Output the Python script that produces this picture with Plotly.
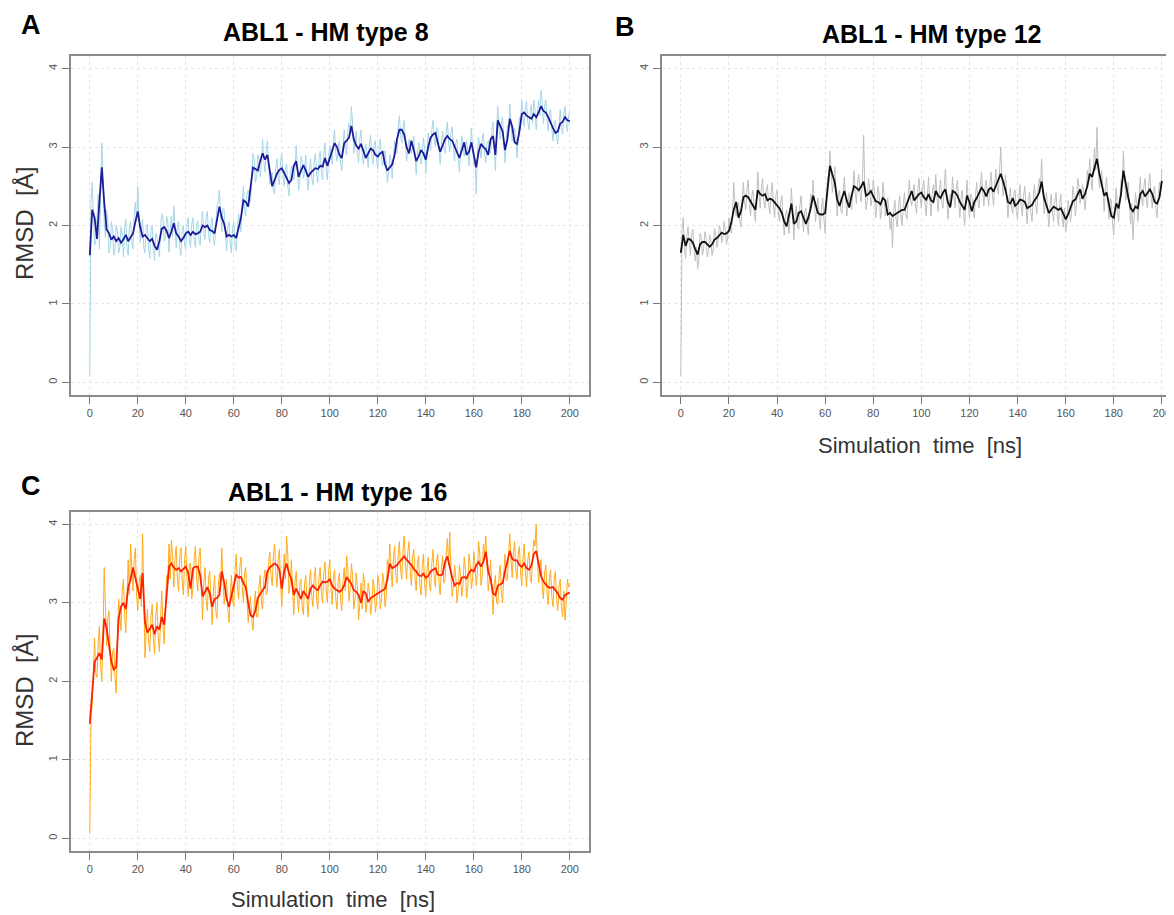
import plotly.graph_objects as go

W, H = 1174, 915
# the page body has an 8 px margin; the figure fills the rest of the window
OFF = 8
FW, FH = W - OFF, H - OFF

time_ns = list(range(201))
half_ns = [t + 0.5 for t in range(200)]

# ---- Panel A: ABL1 - HM type 8 ----
a_smooth = [1.62,2.20,2.10,1.83,2.30,2.74,2.30,1.95,1.90,1.82,
1.86,1.80,1.84,1.78,1.82,1.88,1.80,1.85,1.90,2.05,
2.18,1.98,1.86,1.88,1.84,1.80,1.83,1.74,1.69,1.80,
1.96,1.98,1.93,1.84,1.92,2.03,1.90,1.86,1.80,1.84,
1.90,1.92,1.88,1.92,1.89,1.90,1.92,2.00,1.98,2.00,
1.94,1.93,1.90,2.08,2.24,2.10,2.02,1.86,1.88,1.86,
1.88,1.84,1.98,2.10,2.32,2.30,2.24,2.50,2.74,2.72,
2.70,2.82,2.92,2.84,2.90,2.70,2.50,2.58,2.66,2.71,
2.73,2.67,2.60,2.54,2.58,2.76,2.82,2.62,2.70,2.77,
2.70,2.62,2.67,2.70,2.73,2.72,2.76,2.75,2.86,2.76,
2.85,2.96,3.05,3.00,2.90,2.86,3.05,3.08,3.12,3.27,
3.10,3.02,2.98,3.04,2.96,2.86,2.92,2.98,2.96,2.90,
2.88,2.92,2.94,2.78,2.70,2.74,2.78,2.90,3.10,3.22,
3.22,3.16,3.00,2.92,3.08,2.96,2.82,2.88,2.96,2.92,
2.84,3.00,3.12,3.16,3.18,3.05,2.94,3.02,3.10,3.14,
3.10,3.08,3.00,2.92,2.86,2.96,3.06,2.90,2.94,3.06,
2.92,2.74,2.94,3.04,3.00,2.97,2.90,3.10,3.14,2.90,
3.34,3.28,3.20,2.96,3.10,3.36,3.26,3.06,3.04,3.20,
3.42,3.44,3.40,3.38,3.36,3.42,3.38,3.44,3.52,3.46,
3.44,3.38,3.30,3.24,3.18,3.20,3.30,3.32,3.38,3.34,
3.33]

a_raw = [0.08,2.55,1.75,2.15,1.70,3.05,2.05,2.20,1.65,2.05,
1.62,2.00,1.65,1.98,1.60,2.08,1.62,2.05,1.70,2.30,
2.50,1.78,2.08,1.65,2.02,1.58,2.00,1.55,1.85,1.60,
2.15,1.80,2.12,1.66,2.12,2.25,1.72,2.05,1.62,2.00,
1.70,2.10,1.72,2.10,1.72,2.06,1.75,2.18,1.82,2.18,
1.78,2.10,1.74,2.25,2.45,1.92,2.20,1.68,2.05,1.65,
2.05,1.68,2.15,1.92,2.50,2.12,2.45,2.30,2.92,2.55,
2.90,2.62,3.10,2.68,3.08,2.52,2.68,2.40,2.85,2.52,
2.92,2.50,2.78,2.38,2.76,2.58,3.02,2.45,2.88,2.60,
2.90,2.45,2.85,2.52,2.92,2.55,2.95,2.58,3.05,2.58,
3.02,2.78,3.22,2.82,3.08,2.70,3.22,2.90,3.30,3.52,
2.92,3.20,2.80,3.22,2.78,3.04,2.74,3.15,2.78,3.08,
2.72,3.10,2.76,2.95,2.55,2.90,2.60,3.08,2.92,3.40,
3.05,3.34,2.82,3.10,2.92,3.14,2.65,3.06,2.78,3.12,
2.66,3.18,2.95,3.34,3.00,3.22,2.78,3.20,2.92,3.32,
2.94,3.26,2.82,3.10,2.68,3.14,2.88,3.08,2.76,3.24,
2.76,2.40,3.12,2.86,3.18,2.80,3.08,2.92,3.32,2.70,
3.52,3.10,3.38,2.80,3.28,3.55,3.08,3.24,2.86,3.38,
3.60,3.26,3.58,3.22,3.54,3.60,3.22,3.60,3.72,3.30,
3.60,3.20,3.48,3.08,3.34,3.04,3.48,3.16,3.52,3.20,
3.45]

a_raw_half = [2.30,2.00,1.80,2.40,2.55,2.60,1.85,2.08,1.72,1.95,
1.70,1.95,1.72,1.90,1.95,1.70,1.98,1.78,2.15,2.05,
2.10,1.95,1.72,1.98,1.70,1.95,1.68,1.90,1.75,1.98,
2.10,1.85,2.05,1.95,1.85,2.00,1.98,1.72,1.95,1.75,
2.02,1.80,2.02,1.80,2.02,1.82,2.05,1.90,2.10,1.88,
2.05,1.82,2.02,2.30,2.15,2.22,1.90,1.98,1.78,1.98,
1.75,1.95,2.05,2.30,2.20,2.40,2.35,2.62,2.85,2.62,
2.85,2.78,2.82,2.95,2.80,2.62,2.45,2.72,2.60,2.82,
2.62,2.72,2.50,2.65,2.70,2.72,2.72,2.58,2.82,2.68,
2.60,2.72,2.60,2.82,2.65,2.85,2.68,2.90,2.70,2.88,
2.92,3.10,2.92,2.98,2.80,3.00,3.02,3.20,3.15,3.30,
3.05,2.92,3.10,2.92,2.95,2.90,3.05,2.90,3.02,2.82,
3.00,2.88,2.86,2.80,2.66,2.85,2.82,3.00,3.25,3.15,
3.25,3.05,2.98,3.02,3.02,2.88,2.90,2.95,2.88,2.98,
2.92,3.05,3.22,3.10,3.25,2.98,3.05,3.00,3.20,3.05,
3.18,3.00,3.05,2.85,2.95,3.02,2.98,2.95,3.00,2.98,
2.85,2.90,3.00,3.10,2.92,3.05,2.98,3.20,3.00,3.20,
3.25,3.30,3.05,3.05,3.22,3.30,3.15,3.12,3.12,3.30,
3.38,3.50,3.32,3.45,3.30,3.48,3.45,3.40,3.58,3.52,
3.35,3.45,3.25,3.32,3.12,3.28,3.25,3.42,3.30,3.40]

# ---- Panel B: ABL1 - HM type 12 ----
b_smooth = [1.65,1.88,1.74,1.83,1.82,1.78,1.70,1.63,1.76,1.79,
1.79,1.76,1.73,1.76,1.82,1.84,1.88,1.91,1.89,1.90,
1.93,2.04,2.20,2.30,2.10,2.18,2.36,2.38,2.36,2.30,
2.25,2.20,2.45,2.40,2.38,2.40,2.32,2.34,2.33,2.29,
2.26,2.22,2.16,2.05,1.99,2.12,2.28,2.02,2.05,2.16,
2.18,2.10,2.02,2.10,2.22,2.38,2.25,2.16,2.14,2.14,
2.16,2.45,2.76,2.65,2.55,2.33,2.25,2.35,2.44,2.32,
2.23,2.38,2.50,2.48,2.45,2.50,2.56,2.38,2.40,2.44,
2.38,2.31,2.30,2.27,2.35,2.32,2.14,2.16,2.12,2.14,
2.16,2.18,2.20,2.20,2.28,2.38,2.44,2.32,2.36,2.40,
2.42,2.36,2.33,2.40,2.32,2.30,2.44,2.38,2.35,2.42,
2.46,2.30,2.23,2.44,2.42,2.38,2.30,2.24,2.20,2.38,
2.30,2.18,2.30,2.35,2.42,2.48,2.44,2.37,2.46,2.48,
2.43,2.50,2.58,2.66,2.56,2.45,2.30,2.28,2.35,2.25,
2.28,2.33,2.32,2.30,2.22,2.24,2.26,2.32,2.36,2.42,
2.56,2.35,2.24,2.16,2.20,2.24,2.22,2.20,2.22,2.16,
2.08,2.14,2.24,2.31,2.33,2.40,2.46,2.34,2.40,2.50,
2.66,2.62,2.74,2.85,2.66,2.50,2.38,2.42,2.26,2.12,
2.10,2.28,2.22,2.40,2.70,2.52,2.36,2.22,2.18,2.24,
2.22,2.40,2.44,2.37,2.42,2.46,2.40,2.30,2.28,2.36,
2.57]

b_raw = [0.08,2.10,1.58,1.98,1.62,1.95,1.55,1.45,1.90,1.62,
1.92,1.60,1.88,1.62,1.96,1.72,2.00,1.78,2.05,1.76,
2.10,1.90,2.55,2.12,2.30,1.98,2.55,2.20,2.58,2.12,
2.45,2.05,2.68,2.22,2.60,2.22,2.52,2.15,2.55,2.10,
2.45,2.05,2.38,1.88,2.20,1.90,2.48,1.82,2.25,1.95,
2.38,1.92,2.22,1.88,2.40,2.58,2.05,2.35,1.95,2.35,
1.90,2.62,2.95,2.42,2.75,2.12,2.45,2.15,2.62,2.12,
2.42,2.20,2.70,2.28,2.65,2.30,3.15,2.20,2.60,2.25,
2.58,2.10,2.50,2.08,2.55,2.12,2.35,1.95,1.72,2.32,
1.98,2.38,2.00,2.42,2.08,2.58,2.25,2.52,2.15,2.60,
2.22,2.58,2.12,2.62,2.12,2.52,2.65,2.18,2.58,2.22,
2.72,2.08,2.40,2.62,2.22,2.58,2.10,2.45,2.00,2.58,
2.10,2.36,2.10,2.55,2.22,2.68,2.25,2.58,2.25,2.68,
2.25,2.72,2.40,3.00,2.38,2.65,2.10,2.48,2.15,2.45,
2.08,2.52,2.12,2.50,2.02,2.42,2.05,2.52,2.15,2.60,
2.85,2.15,2.42,1.98,2.40,2.05,2.42,2.00,2.40,1.98,
1.92,2.32,2.05,2.50,2.12,2.60,2.28,2.52,2.20,2.70,
2.85,2.45,2.98,3.25,2.48,2.70,2.18,2.62,2.08,2.32,
1.88,2.48,2.05,2.58,2.95,2.32,2.55,2.02,1.82,2.42,
2.05,2.62,2.25,2.60,2.22,2.66,2.22,2.50,2.10,2.55,
2.72]

b_raw_half = [1.95,1.72,1.88,1.75,1.88,1.70,1.72,1.58,1.85,1.70,
1.85,1.68,1.82,1.70,1.88,1.80,1.95,1.85,1.95,1.85,
2.00,2.15,2.28,2.22,2.05,2.30,2.30,2.45,2.28,2.38,
2.18,2.32,2.40,2.48,2.30,2.45,2.28,2.42,2.25,2.38,
2.18,2.30,2.08,2.12,2.05,2.20,2.15,2.12,2.00,2.25,
2.10,2.18,2.00,2.20,2.30,2.32,2.20,2.10,2.22,2.08,
2.30,2.62,2.70,2.55,2.45,2.40,2.20,2.42,2.35,2.28,
2.30,2.45,2.42,2.55,2.40,2.58,2.48,2.32,2.48,2.35,
2.45,2.25,2.38,2.20,2.40,2.22,2.22,2.10,2.20,2.08,
2.25,2.12,2.28,2.15,2.35,2.32,2.42,2.28,2.45,2.35,
2.48,2.30,2.38,2.32,2.40,2.38,2.35,2.45,2.30,2.50,
2.40,2.25,2.35,2.38,2.48,2.30,2.36,2.18,2.30,2.30,
2.40,2.24,2.38,2.30,2.50,2.42,2.50,2.38,2.52,2.40,
2.52,2.50,2.68,2.60,2.50,2.38,2.35,2.22,2.42,2.18,
2.35,2.25,2.38,2.22,2.30,2.18,2.32,2.28,2.45,2.48,
2.48,2.28,2.20,2.25,2.15,2.30,2.15,2.28,2.12,2.22,
2.02,2.22,2.20,2.38,2.28,2.50,2.38,2.42,2.36,2.58,
2.60,2.72,2.70,2.78,2.58,2.45,2.48,2.32,2.35,2.02,
2.22,2.18,2.30,2.55,2.62,2.42,2.30,2.28,2.12,2.30,
2.30,2.35,2.50,2.32,2.50,2.38,2.45,2.22,2.38,2.45]

# ---- Panel C: ABL1 - HM type 16 ----
c_smooth = [1.46,1.90,2.25,2.30,2.36,2.28,2.80,2.68,2.46,2.25,
2.15,2.18,2.80,2.95,3.00,2.92,3.20,3.30,3.45,3.32,
3.15,3.05,3.38,2.75,2.62,2.68,2.72,2.60,2.70,2.66,
2.82,2.72,3.10,3.46,3.50,3.45,3.42,3.44,3.40,3.43,
3.46,3.38,3.18,3.44,3.46,3.46,3.35,3.08,3.15,3.20,
3.12,2.95,3.05,3.06,3.10,3.40,3.26,3.05,2.95,3.10,
3.25,3.36,3.32,3.33,3.25,3.20,3.00,2.84,2.82,2.90,
3.06,3.12,3.16,3.20,3.40,3.45,3.48,3.50,3.48,3.42,
3.18,3.40,3.50,3.38,3.30,3.10,3.18,3.12,3.05,3.15,
3.10,3.05,3.18,3.22,3.18,3.16,3.22,3.27,3.26,3.27,
3.30,3.22,3.18,3.16,3.14,3.16,3.22,3.33,3.28,3.24,
3.16,3.14,3.10,3.00,3.15,3.12,3.01,3.06,3.08,3.10,
3.12,3.14,3.16,3.18,3.30,3.50,3.44,3.46,3.48,3.52,
3.56,3.59,3.55,3.52,3.48,3.43,3.40,3.35,3.34,3.37,
3.32,3.34,3.40,3.42,3.44,3.36,3.35,3.36,3.52,3.59,
3.44,3.32,3.22,3.25,3.24,3.32,3.33,3.31,3.38,3.42,
3.40,3.48,3.52,3.46,3.52,3.65,3.40,3.30,3.12,3.10,
3.22,3.24,3.25,3.40,3.52,3.66,3.56,3.54,3.54,3.48,
3.46,3.50,3.44,3.42,3.48,3.62,3.66,3.50,3.34,3.27,
3.24,3.20,3.19,3.20,3.16,3.12,3.06,3.04,3.10,3.12,
3.13]

c_raw = [0.06,1.70,2.55,2.05,2.70,2.00,3.45,2.45,2.90,2.00,
2.42,1.85,3.05,2.65,3.30,2.62,3.55,3.75,3.15,3.70,
2.90,3.35,3.88,2.30,2.92,2.38,2.98,2.35,3.00,2.38,
3.15,2.48,3.35,3.75,3.80,3.20,3.72,3.15,3.70,3.10,
3.72,3.08,3.50,3.20,3.72,3.15,3.70,2.78,3.45,2.90,
3.40,2.72,3.35,2.80,3.38,3.70,2.98,3.30,2.75,3.35,
2.95,3.62,3.05,3.58,3.00,3.45,2.75,3.08,2.65,3.15,
2.82,3.35,2.92,3.42,3.15,3.65,3.22,3.75,3.20,3.68,
2.95,3.62,3.85,3.12,3.55,2.85,3.40,2.88,3.30,2.85,
3.35,2.82,3.42,2.95,3.45,2.92,3.45,3.00,3.52,3.00,
3.55,2.98,3.42,2.92,3.38,2.90,3.45,3.60,3.02,3.50,
2.92,3.38,2.78,3.25,3.38,2.88,3.25,2.85,3.30,2.88,
3.35,2.92,3.38,2.95,3.55,3.75,3.20,3.72,3.25,3.78,
3.30,3.85,3.30,3.78,3.22,3.68,3.15,3.60,3.10,3.62,
3.08,3.58,3.15,3.68,3.20,3.62,3.10,3.60,3.30,3.82,
3.90,3.08,3.48,3.00,3.48,3.08,3.58,3.06,3.62,3.18,
3.65,3.22,3.78,3.22,3.75,3.85,3.15,3.55,2.85,3.35,
2.98,3.48,3.00,3.62,3.30,3.88,3.32,3.78,3.30,3.72,
3.22,3.75,3.20,3.65,3.25,3.80,4.00,3.25,3.55,3.05,
3.48,2.98,3.42,2.95,3.40,2.90,3.30,2.82,2.78,3.30,
3.25]

c_raw_half = [1.55,2.20,2.10,2.50,2.20,2.55,2.95,2.80,2.35,2.38,
2.05,2.50,2.85,3.15,2.85,3.05,3.10,3.45,3.55,3.10,
3.25,2.95,3.10,2.65,2.50,2.82,2.55,2.85,2.55,2.80,
2.70,2.95,3.25,3.30,3.60,3.55,3.30,3.58,3.28,3.55,
3.30,3.50,3.05,3.55,3.32,3.58,3.22,3.25,3.02,3.32,
3.00,3.15,2.90,3.20,3.22,3.30,3.15,2.92,3.08,3.02,
3.40,3.22,3.45,3.20,3.38,3.05,2.95,2.78,2.95,2.82,
3.20,3.00,3.30,3.10,3.50,3.35,3.60,3.40,3.55,3.25,
3.30,3.30,3.62,3.25,3.15,3.25,3.05,3.25,2.95,3.25,
3.02,3.25,3.08,3.32,3.05,3.32,3.12,3.38,3.15,3.40,
3.18,3.32,3.05,3.28,3.05,3.28,3.15,3.45,3.18,3.35,
3.05,3.22,2.98,2.92,3.25,3.00,3.15,2.98,3.20,3.00,
3.25,3.02,3.28,3.08,3.40,3.42,3.55,3.35,3.60,3.42,
3.68,3.48,3.65,3.40,3.58,3.32,3.50,3.25,3.45,3.25,
3.42,3.25,3.50,3.32,3.55,3.25,3.45,3.25,3.62,3.48,
3.35,3.22,3.32,3.15,3.35,3.22,3.42,3.20,3.48,3.32,
3.50,3.38,3.62,3.35,3.62,3.52,3.30,3.20,3.22,3.00,
3.35,3.12,3.38,3.28,3.62,3.55,3.65,3.42,3.62,3.38,
3.58,3.38,3.55,3.32,3.58,3.72,3.55,3.40,3.22,3.38,
3.12,3.32,3.08,3.30,3.05,3.22,2.95,3.15,3.00,3.20]

titles = ["ABL1 - HM type 8", "ABL1 - HM type 12", "ABL1 - HM type 16"]
letters = ["A", "B", "C"]
x_ticks = [0, 20, 40, 60, 80, 100, 120, 140, 160, 180, 200]
y_ticks = [0, 1, 2, 3, 4]
y_label = "RMSD  [Å]"
x_label = "Simulation  time  [ns]"

FONT = "Liberation Sans, Arial, sans-serif"


def px(x):
    return (x - OFF) / FW


def py(y):
    return 1 - (y - OFF) / FH


def merge(full, half):
    xs, ys = [], []
    for i in range(len(half)):
        xs += [time_ns[i], half_ns[i]]
        ys += [full[i], half[i]]
    xs.append(time_ns[-1])
    ys.append(full[-1])
    return xs, ys


fig = go.Figure()

panels = [
    (a_raw, a_raw_half, a_smooth, "#a6d6e6", "#1c1c98", "x", "y"),
    (b_raw, b_raw_half, b_smooth, "#bfbfbf", "#111111", "x2", "y2"),
    (c_raw, c_raw_half, c_smooth, "#ffab1f", "#ff2000", "x3", "y3"),
]
for raw, half, smooth, rc, sc, xa, ya in panels:
    rx, ry = merge(raw, half)
    fig.add_trace(go.Scatter(x=rx, y=ry, mode="lines", xaxis=xa, yaxis=ya,
                             line=dict(color=rc, width=1), showlegend=False, hoverinfo="skip"))
    fig.add_trace(go.Scatter(x=time_ns, y=smooth, mode="lines", xaxis=xa, yaxis=ya,
                             line=dict(color=sc, width=1.8), showlegend=False))

common_x = dict(range=[-8, 208], tickvals=x_ticks, ticks="outside", ticklen=7, tickwidth=1,
                tickcolor="#777", showline=True, mirror=True, linecolor="#8a8a8a", linewidth=1.5,
                showgrid=True, gridcolor="#e6e6e6", griddash="dot", gridwidth=1, zeroline=False,
                tickfont=dict(size=11, color="#555", family=FONT))
common_y = dict(range=[-0.16, 4.16], tickvals=y_ticks, ticks="outside", ticklen=7, tickwidth=1,
                tickcolor="#777", showline=True, mirror=True, linecolor="#8a8a8a", linewidth=1.5,
                showgrid=True, gridcolor="#e6e6e6", griddash="dot", gridwidth=1, zeroline=False,
                tickangle=-90, tickfont=dict(size=11, color="#555", family=FONT))

dom_top = [py(395), py(56)]
dom_bot = [py(851), py(511.7)]
dom_left = [px(70.7), px(590)]
dom_right = [px(662.7), 1.0]

fig.update_layout(
    width=FW, height=FH, margin=dict(l=0, r=0, t=0, b=0),
    paper_bgcolor="white", plot_bgcolor="white",
    font=dict(family=FONT),
    xaxis=dict(domain=dom_left, anchor="y", **common_x),
    yaxis=dict(domain=dom_top, anchor="x", **common_y),
    xaxis2=dict(domain=dom_right, anchor="y2", **{**common_x, "range": [-8, 204.2]}),
    yaxis2=dict(domain=dom_top, anchor="x2", **common_y),
    xaxis3=dict(domain=dom_left, anchor="y3", **common_x),
    yaxis3=dict(domain=dom_bot, anchor="x3", **common_y),
)

ann = []
for text, (cx, cy) in zip(titles, [(327, 32), (933, 34), (338, 492)]):
    ann.append(dict(text="<b>%s</b>" % text, x=px(cx), y=py(cy), xref="paper", yref="paper",
                    showarrow=False, xanchor="center", yanchor="middle",
                    font=dict(size=25, color="black", family=FONT)))
for text, (cx, cy) in zip(letters, [(31, 25), (626, 27), (31, 486)]):
    ann.append(dict(text="<b>%s</b>" % text, x=px(cx), y=py(cy), xref="paper", yref="paper",
                    showarrow=False, xanchor="center", yanchor="middle",
                    font=dict(size=27, color="black", family=FONT)))
for cy in [223, 690]:
    ann.append(dict(text=y_label, x=px(24), y=py(cy), xref="paper", yref="paper",
                    showarrow=False, xanchor="center", yanchor="middle", textangle=-90,
                    font=dict(size=24, color="#333", family=FONT)))
for cx, cy in [(922, 445), (334, 899)]:
    ann.append(dict(text=x_label, x=px(cx), y=py(cy), xref="paper", yref="paper",
                    showarrow=False, xanchor="center", yanchor="middle",
                    font=dict(size=22, color="#333", family=FONT)))
fig.update_layout(annotations=ann)

fig.write_html("out.html")
